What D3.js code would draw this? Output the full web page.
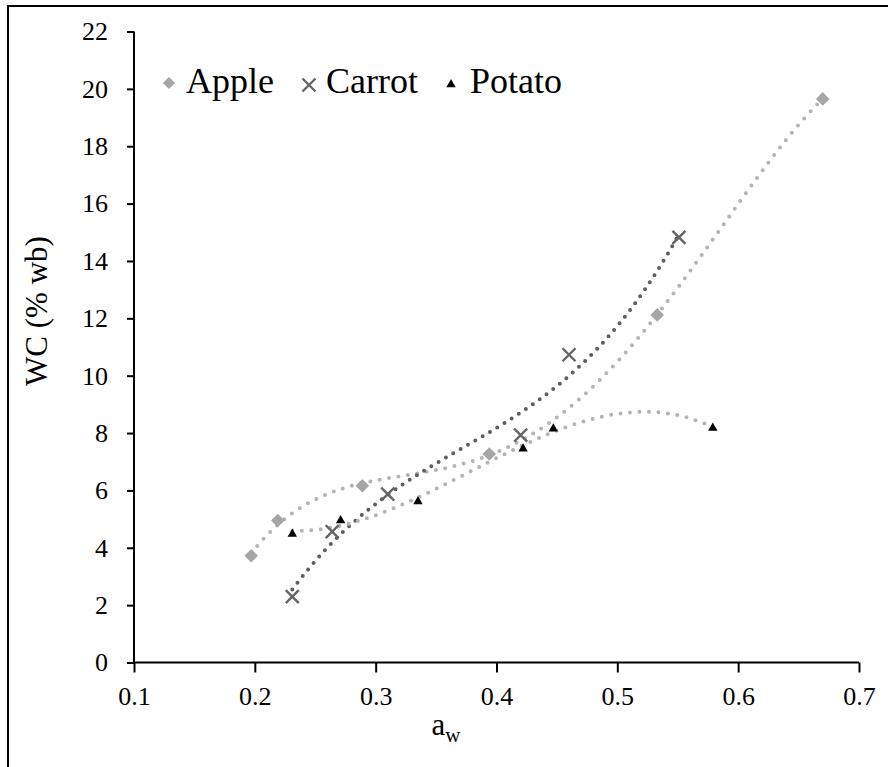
<html>
<head>
<meta charset="utf-8">
<script src="https://cdn.jsdelivr.net/npm/d3@7"></script>
</head>
<body style="margin:0">
<svg id="chart" width="888" height="767"></svg>
<script>
// ---- data ----
const seriesNames = ["Apple", "Carrot", "Potato"];
const appleX  = [0.197, 0.219, 0.289, 0.394, 0.533, 0.670];
const appleY  = [3.72, 4.95, 6.16, 7.27, 12.12, 19.65];
const carrotX = [0.231, 0.264, 0.310, 0.420, 0.460, 0.551];
const carrotY = [2.30, 4.56, 5.87, 7.93, 10.73, 14.82];
const potatoX = [0.231, 0.271, 0.335, 0.422, 0.447, 0.579];
const potatoY = [4.50, 4.97, 5.63, 7.47, 8.17, 8.19];
const xTicks = [0.1, 0.2, 0.3, 0.4, 0.5, 0.6, 0.7];
const yTicks = [0, 2, 4, 6, 8, 10, 12, 14, 16, 18, 20, 22];
const trendOrders = [4, 3, 3];

const FONT = "'Liberation Serif'";
const svg = d3.select("#chart");
const plot = { left: 134, right: 859, top: 31.5, bottom: 662.5 };

svg.append("rect").attr("x", 0).attr("y", 0).attr("width", 888).attr("height", 767).attr("fill", "#fff");
// outer frame (extends beyond the viewport at right/bottom)
svg.append("rect").attr("x", 8).attr("y", 6).attr("width", 920).attr("height", 800)
  .attr("fill", "none").attr("stroke", "#000").attr("stroke-width", 2);

const x = d3.scaleLinear().domain([0.1, 0.7]).range([plot.left, plot.right]);
const y = d3.scaleLinear().domain([0, 22]).range([plot.bottom, plot.top]);

// axes
const xAxis = d3.axisBottom(x).tickValues(xTicks).tickSize(10).tickPadding(14)
  .tickFormat(d3.format(".1f"));
const yAxis = d3.axisLeft(y).tickValues(yTicks).tickSize(7).tickPadding(19)
  .tickFormat(d3.format("d"));

const gx = svg.append("g").attr("transform", `translate(0,${plot.bottom})`).call(xAxis);
const gy = svg.append("g").attr("transform", `translate(${plot.left},0)`).call(yAxis);
[gx, gy].forEach(g => {
  g.attr("font-family", FONT).attr("font-size", 26);
  g.select(".domain").attr("stroke", "#000").attr("stroke-width", 2);
  g.selectAll(".tick line").attr("stroke", "#000").attr("stroke-width", 2);
  g.selectAll(".tick text").attr("font-family", FONT).attr("font-size", 26).attr("fill", "#000");
});
gx.select(".domain").attr("d", `M${plot.left},0H${plot.right}`);
gy.select(".domain").attr("d", `M0,${plot.top}V${plot.bottom}`);

// axis titles
svg.append("text")
  .attr("transform", `translate(47,${(plot.top + plot.bottom) / 2 - 36}) rotate(-90)`)
  .attr("text-anchor", "middle").attr("font-family", FONT).attr("font-size", 31)
  .attr("fill", "#000").text("WC (% wb)");
const xt = svg.append("text").attr("x", 446).attr("y", 735)
  .attr("text-anchor", "middle").attr("font-family", FONT).attr("font-size", 31).attr("fill", "#000");
xt.append("tspan").text("a");
xt.append("tspan").attr("font-size", 21).attr("dy", 7).text("w");

// polynomial least squares (trendline like the spreadsheet's)
function polyfit(xs, ys, order) {
  const n = order + 1;
  const xm = d3.mean(xs);
  const A = Array.from({ length: n }, () => new Array(n + 1).fill(0));
  for (let i = 0; i < xs.length; i++) {
    const u = xs[i] - xm;
    for (let r = 0; r < n; r++) {
      for (let c = 0; c < n; c++) A[r][c] += Math.pow(u, r + c);
      A[r][n] += ys[i] * Math.pow(u, r);
    }
  }
  for (let col = 0; col < n; col++) {
    let piv = col;
    for (let r = col + 1; r < n; r++) if (Math.abs(A[r][col]) > Math.abs(A[piv][col])) piv = r;
    [A[col], A[piv]] = [A[piv], A[col]];
    for (let r = 0; r < n; r++) {
      if (r === col) continue;
      const f = A[r][col] / A[col][col];
      for (let c = col; c <= n; c++) A[r][c] -= f * A[col][c];
    }
  }
  const coef = A.map((row, i) => row[n] / row[i]);
  return xv => coef.reduce((s, c, k) => s + c * Math.pow(xv - xm, k), 0);
}
function trendPoints(xs, ys, order) {
  const f = polyfit(xs, ys, order);
  const x0 = d3.min(xs), x1 = d3.max(xs);
  return d3.range(0, 201).map(i => {
    const xv = x0 + (x1 - x0) * i / 200;
    return [xv, f(xv)];
  });
}

const series = [
  { name: seriesNames[0], xs: appleX,  ys: appleY,  marker: "diamond",  mColor: "#a6a6a6", tColor: "#b4b4b4", dash: "0 9.5" },
  { name: seriesNames[1], xs: carrotX, ys: carrotY, marker: "x",        mColor: "#666666", tColor: "#5e5e5e", dash: "0 8.5" },
  { name: seriesNames[2], xs: potatoX, ys: potatoY, marker: "triangle", mColor: "#000000", tColor: "#b4b4b4", dash: "0 9.5" }
];

const line = d3.line().x(d => x(d[0])).y(d => y(d[1]));

// trendlines
series.forEach((s, i) => {
  svg.append("path").datum(trendPoints(s.xs, s.ys, trendOrders[i]))
    .attr("d", line).attr("fill", "none")
    .attr("stroke", s.tColor).attr("stroke-width", 4)
    .attr("stroke-linecap", "round").attr("stroke-dasharray", s.dash);
});

function drawMarker(g, type, color, scale) {
  scale = scale || 1;
  if (type === "diamond") {
    const r = 6.8 * scale;
    g.append("path").attr("d", `M0,${-r}L${r},0L0,${r}L${-r},0Z`).attr("fill", color);
  } else if (type === "x") {
    const r = 6.5 * scale;
    g.append("path").attr("d", `M${-r},${-r}L${r},${r}M${-r},${r}L${r},${-r}`)
      .attr("stroke", color).attr("stroke-width", 2.4).attr("fill", "none");
  } else {
    const w = 4.7 * scale, h = 5 * scale;
    g.append("path").attr("d", `M0,${-h}L${w},${h * 0.65}L${-w},${h * 0.65}Z`).attr("fill", color);
  }
}

// markers
series.forEach(s => {
  s.xs.forEach((xv, i) => {
    const g = svg.append("g").attr("transform", `translate(${x(xv)},${y(s.ys[i])})`);
    drawMarker(g, s.marker, s.mColor);
  });
});

// legend
const legendItems = [
  { mx: 169, my: 83, tx: 186, scale: 0.9 },
  { mx: 309, my: 85, tx: 326, scale: 1.0 },
  { mx: 451, my: 84, tx: 470, scale: 1.0 }
];
series.forEach((s, i) => {
  const L = legendItems[i];
  const g = svg.append("g").attr("transform", `translate(${L.mx},${L.my})`);
  drawMarker(g, s.marker, s.mColor, L.scale);
  svg.append("text").attr("x", L.tx).attr("y", 93)
    .attr("font-family", FONT).attr("font-size", 36).attr("fill", "#000").text(s.name);
});
</script>
</body>
</html>
